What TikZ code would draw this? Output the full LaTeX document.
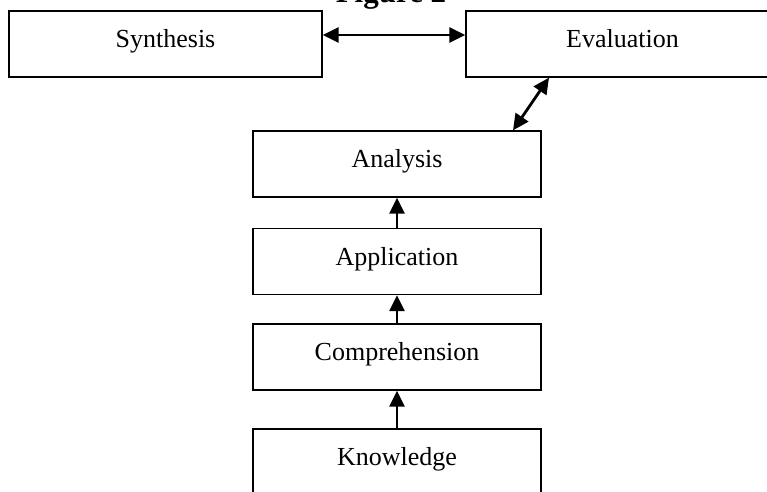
\documentclass[tikz,border=0pt]{standalone}
\usepackage{fontspec}
\setmainfont{Liberation Serif}
\usetikzlibrary{arrows.meta}
\begin{document}
\begin{tikzpicture}[x=1pt,y=-1pt,
  box/.style={draw=black,line width=1.3pt,fill=white,rectangle,inner sep=0pt,
    minimum height=66pt,text height=12pt,text depth=5pt,
    font=\fontsize{26}{30}\selectfont},
  midbox/.style={box,minimum width=288pt},
  topbox/.style={box,minimum width=313pt},
  conn/.style={line width=2.8pt,-{Triangle[length=16pt,width=15pt]}},
  bconn/.style={line width=2.8pt,{Triangle[length=16pt,width=15pt]}-{Triangle[length=16pt,width=15pt]}}]
\useasboundingbox (0,0) rectangle (767,491);
\clip (0,0) rectangle (767,491);
\node[font=\fontsize{31}{35}\selectfont\bfseries,anchor=base] (title) at (391,2.5) {Figure 2};
\node[topbox] (syn) at (165.5,44) {Synthesis};
\node[topbox] (eva) at (622.5,44) {Evaluation};
\node[midbox] (ana) at (397,164) {Analysis};
\node[midbox] (app) at (397,261.5) {Application};
\node[midbox] (com) at (397,357) {Comprehension};
\node[midbox] (kno) at (397,462) {Knowledge};
\draw[bconn] ([yshift=9pt]syn.east) -- ([yshift=9pt]eva.west);
\draw[bconn] ([xshift=-73.5pt]eva.south) -- ([xshift=116pt]ana.north);
\draw[conn] (app.north) -- (ana.south);
\draw[conn] (com.north) -- (app.south);
\draw[conn] (kno.north) -- (com.south);
\end{tikzpicture}
\end{document}
